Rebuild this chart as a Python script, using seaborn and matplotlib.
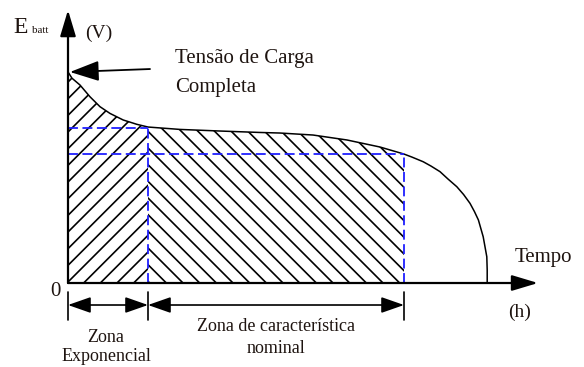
import numpy as np
import pandas as pd
import matplotlib
matplotlib.use("Agg")
import matplotlib.pyplot as plt
import seaborn as sns

# ---- data (time in h, voltage in V) ----
time_h = [0.0, 0.1, 0.3, 0.55, 0.8, 1.05, 1.38, 1.72, 2.0,
          2.8, 3.8, 4.8, 5.3, 6.125, 6.975, 7.8, 8.4,
          8.6, 8.88, 9.075, 9.3, 9.5, 9.72, 9.89, 10.05, 10.16, 10.26,
          10.38, 10.47, 10.48, 10.48]
volt_v = [13.19, 12.8, 12.375, 11.64, 11.02, 10.6, 10.19, 9.92, 9.75,
          9.6, 9.5, 9.41, 9.375, 9.25, 8.94, 8.5, 8.06,
          7.87, 7.58, 7.31, 6.96, 6.5, 6.02, 5.53, 4.98, 4.47, 3.94,
          2.89, 1.64, 0.81, 0.0]

t_exp_end = 2.0      # end of exponential zone
v_exp_end = 9.69
t_nom_end = 8.4      # end of nominal zone
v_nom_end = 8.06
v_full = 13.19

zone_labels = ["Zona\nExponencial", "Zona de característica\nnominal"]

df = pd.DataFrame({"t": time_h, "v": volt_v})

sns.set_theme(style="white")
plt.rcParams["font.family"] = ["Liberation Serif", "DejaVu Serif"]
plt.rcParams["hatch.linewidth"] = 1.2
txt_color = "#1e1410"
blue = "#1f1fff"

fig = plt.figure(figsize=(5.84, 3.67), dpi=100)
ax = fig.add_axes([0, 0, 1, 1])
ax.set_xlim(-1.7, 12.9)
ax.set_ylim(-5.25, 17.69)
ax.axis("off")

# hatched zones
exp = df[df.t <= t_exp_end]
nom = df[(df.t >= t_exp_end) & (df.t <= t_nom_end)]
ax.fill_between(exp.t, 0, exp.v, facecolor="none", edgecolor="black",
                hatch="//", linewidth=0)
ax.fill_between(nom.t, 0, nom.v, facecolor="none", edgecolor="black",
                hatch="\\\\", linewidth=0)

# curve
sns.lineplot(data=df, x="t", y="v", ax=ax, color="black", linewidth=1.1,
             sort=False, estimator=None)

# blue dashed guides
ds = (0, (5.5, 2.5))
ax.plot([0, t_exp_end], [v_exp_end, v_exp_end], color=blue, lw=1.3, ls=ds)
ax.plot([0, t_nom_end], [v_nom_end, v_nom_end], color=blue, lw=1.3, ls=ds)
ax.plot([t_exp_end, t_exp_end], [0, v_exp_end], color=blue, lw=1.3, ls=ds)
ax.plot([t_nom_end, t_nom_end], [0, v_nom_end], color=blue, lw=1.3, ls=ds)

# axes arrows
ax.annotate("", xy=(0, 17.06), xytext=(0, 0),
            arrowprops=dict(arrowstyle="-|>,head_length=1.0,head_width=0.3",
                            mutation_scale=16, color="black", lw=1.6,
                            shrinkA=0, shrinkB=0))
ax.annotate("", xy=(11.75, 0), xytext=(0, 0),
            arrowprops=dict(arrowstyle="-|>,head_length=1.0,head_width=0.3",
                            mutation_scale=16, color="black", lw=1.6,
                            shrinkA=0, shrinkB=0))

# full charge arrow
ax.annotate("", xy=(0.05, v_full), xytext=(2.05, 13.375),
            arrowprops=dict(arrowstyle="-|>,head_length=1.0,head_width=0.35",
                            mutation_scale=18, color="black", lw=1.3,
                            shrinkA=0, shrinkB=0))

# dimension lines
y_dim = -1.375
for tx in [0, t_exp_end, t_nom_end]:
    ax.plot([tx, tx], [-0.5625, -2.3125], color="black", lw=1.2)
for a, b in [(0, t_exp_end), (t_exp_end, t_nom_end)]:
    ax.annotate("", xy=(b, y_dim), xytext=(a, y_dim),
                arrowprops=dict(arrowstyle="<|-|>,head_length=1.0,head_width=0.35",
                                mutation_scale=14, color="black", lw=1.2,
                                shrinkA=0, shrinkB=0))

# texts
ax.text(-1.375, 15.625, "E", fontsize=17, color=txt_color, ha="left", va="baseline")
ax.text(-0.9, 15.625, "batt", fontsize=8, color=txt_color, ha="left", va="baseline")
ax.text(0.425, 15.6, "(V)", fontsize=14, color=txt_color, ha="left", va="center")
ax.text(2.675, 13.75, "Tensão de Carga", fontsize=15, color=txt_color,
        ha="left", va="baseline")
ax.text(2.675, 11.94, "Completa", fontsize=15, color=txt_color,
        ha="left", va="baseline")
ax.text(11.175, 1.31, "Tempo", fontsize=15, color=txt_color, ha="left", va="baseline")
ax.text(-0.325, -0.5, "0", fontsize=15, color=txt_color, ha="center", va="center")
ax.text(11.3, -1.81, "(h)", fontsize=14, color=txt_color, ha="center", va="center")
ax.text(0.95, -4.0, zone_labels[0], fontsize=13, color=txt_color,
        ha="center", va="center", linespacing=1.1)
ax.text(5.2, -3.4, zone_labels[1], fontsize=13, color=txt_color,
        ha="center", va="center", linespacing=1.4)

fig.savefig("out.png", dpi=100)
